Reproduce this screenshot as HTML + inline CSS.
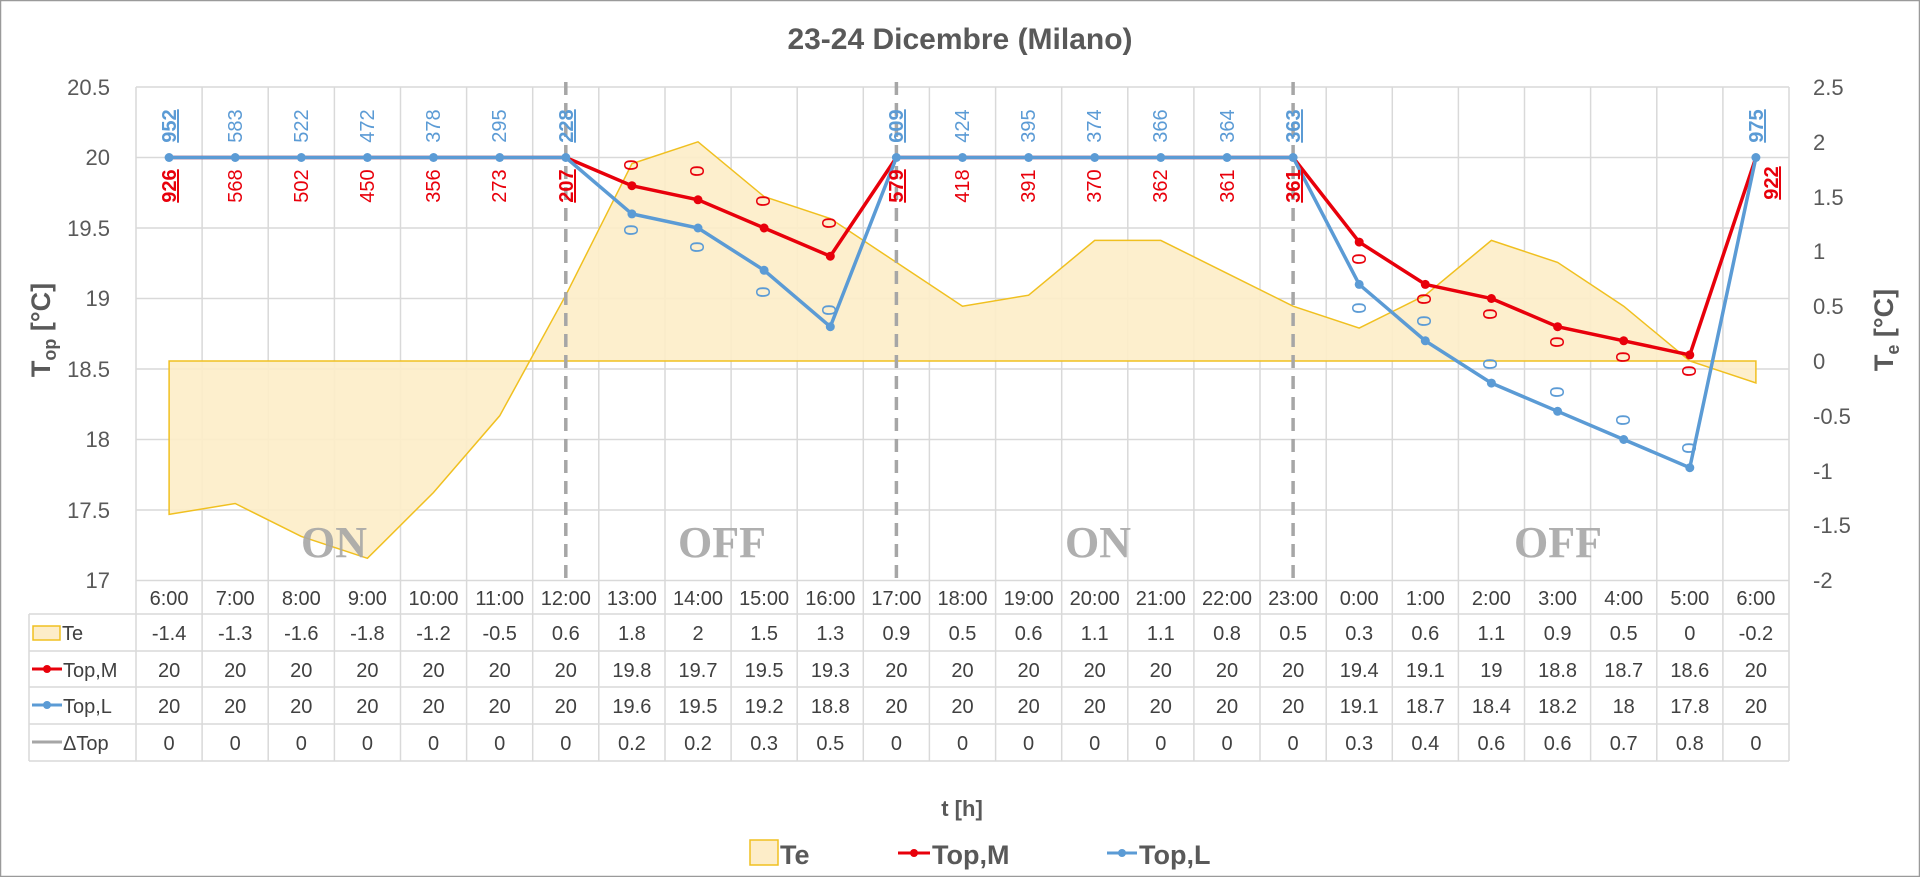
<!DOCTYPE html>
<html><head><meta charset="utf-8"><style>
html,body{margin:0;padding:0;background:#fff;}
svg{display:block;font-family:"Liberation Sans",sans-serif;}
</style></head><body>
<svg width="1920" height="877" viewBox="0 0 1920 877" xmlns="http://www.w3.org/2000/svg">
<rect x="0.5" y="0.5" width="1919" height="876" fill="#fff" stroke="#9a9a9a" stroke-width="1.5"/>
<text x="960" y="49" text-anchor="middle" font-size="30" font-weight="bold" fill="#595959">23-24 Dicembre (Milano)</text>

<!-- gridlines -->
<g stroke="#d9d9d9" stroke-width="1.5">
<line x1="136" y1="87" x2="1789" y2="87"/><line x1="136" y1="157.5" x2="1789" y2="157.5"/><line x1="136" y1="228" x2="1789" y2="228"/><line x1="136" y1="298.5" x2="1789" y2="298.5"/><line x1="136" y1="369" x2="1789" y2="369"/><line x1="136" y1="439.5" x2="1789" y2="439.5"/><line x1="136" y1="510" x2="1789" y2="510"/><line x1="136" y1="580.5" x2="1789" y2="580.5"/>
<line x1="136" y1="87" x2="136" y2="761"/><line x1="202.1" y1="87" x2="202.1" y2="761"/><line x1="268.2" y1="87" x2="268.2" y2="761"/><line x1="334.4" y1="87" x2="334.4" y2="761"/><line x1="400.5" y1="87" x2="400.5" y2="761"/><line x1="466.6" y1="87" x2="466.6" y2="761"/><line x1="532.7" y1="87" x2="532.7" y2="761"/><line x1="598.8" y1="87" x2="598.8" y2="761"/><line x1="665" y1="87" x2="665" y2="761"/><line x1="731.1" y1="87" x2="731.1" y2="761"/><line x1="797.2" y1="87" x2="797.2" y2="761"/><line x1="863.3" y1="87" x2="863.3" y2="761"/><line x1="929.4" y1="87" x2="929.4" y2="761"/><line x1="995.6" y1="87" x2="995.6" y2="761"/><line x1="1061.7" y1="87" x2="1061.7" y2="761"/><line x1="1127.8" y1="87" x2="1127.8" y2="761"/><line x1="1193.9" y1="87" x2="1193.9" y2="761"/><line x1="1260" y1="87" x2="1260" y2="761"/><line x1="1326.2" y1="87" x2="1326.2" y2="761"/><line x1="1392.3" y1="87" x2="1392.3" y2="761"/><line x1="1458.4" y1="87" x2="1458.4" y2="761"/><line x1="1524.5" y1="87" x2="1524.5" y2="761"/><line x1="1590.6" y1="87" x2="1590.6" y2="761"/><line x1="1656.8" y1="87" x2="1656.8" y2="761"/><line x1="1722.9" y1="87" x2="1722.9" y2="761"/><line x1="1789" y1="87" x2="1789" y2="761"/>
<line x1="29" y1="614" x2="1789" y2="614"/><line x1="29" y1="651" x2="1789" y2="651"/><line x1="29" y1="687" x2="1789" y2="687"/><line x1="29" y1="724" x2="1789" y2="724"/><line x1="29" y1="761" x2="1789" y2="761"/>
<line x1="29" y1="614" x2="29" y2="761"/>
</g>

<!-- Te area -->
<polygon fill="#fdedc8" fill-opacity="0.9" stroke="#f0c020" stroke-width="1.5" points="169.1,361 169.1,514.4 235.2,503.5 301.3,536.4 367.4,558.3 433.5,492.5 499.7,415.8 565.8,295.2 631.9,163.7 698,141.8 764.1,196.6 830.3,218.5 896.4,262.4 962.5,306.2 1028.6,295.2 1094.7,240.4 1160.8,240.4 1227,273.3 1293.1,306.2 1359.2,328.1 1425.3,295.2 1491.4,240.4 1557.6,262.4 1623.7,306.2 1689.8,361 1755.9,382.9 1755.9,361"/>

<!-- ON/OFF -->
<g font-family="'Liberation Serif',serif" font-weight="bold" font-size="44" fill="#a6a6a6" fill-opacity="0.9" text-anchor="middle">
<text x="334" y="557">ON</text><text x="722" y="557">OFF</text><text x="1098" y="557">ON</text><text x="1558" y="557">OFF</text>
</g>

<!-- dashed -->
<g stroke="#a6a6a6" stroke-width="3.5" stroke-dasharray="13,8">
<line x1="565.8" y1="82" x2="565.8" y2="580"/><line x1="896.4" y1="82" x2="896.4" y2="580"/><line x1="1293.1" y1="82" x2="1293.1" y2="580"/>
</g>

<!-- red line -->
<polyline fill="none" stroke="#e8000b" stroke-width="3.5" points="169.1,157.5 235.2,157.5 301.3,157.5 367.4,157.5 433.5,157.5 499.7,157.5 565.8,157.5 631.9,185.7 698,199.8 764.1,228 830.3,256.2 896.4,157.5 962.5,157.5 1028.6,157.5 1094.7,157.5 1160.8,157.5 1227,157.5 1293.1,157.5 1359.2,242.1 1425.3,284.4 1491.4,298.5 1557.6,326.7 1623.7,340.8 1689.8,354.9 1755.9,157.5"/>
<g fill="#e8000b">
<circle cx="631.9" cy="185.7" r="4.5"/><circle cx="698" cy="199.8" r="4.5"/><circle cx="764.1" cy="228" r="4.5"/><circle cx="830.3" cy="256.2" r="4.5"/><circle cx="1359.2" cy="242.1" r="4.5"/><circle cx="1425.3" cy="284.4" r="4.5"/><circle cx="1491.4" cy="298.5" r="4.5"/><circle cx="1557.6" cy="326.7" r="4.5"/><circle cx="1623.7" cy="340.8" r="4.5"/><circle cx="1689.8" cy="354.9" r="4.5"/>
</g>
<!-- blue line -->
<polyline fill="none" stroke="#5b9bd5" stroke-width="3.5" points="169.1,157.5 235.2,157.5 301.3,157.5 367.4,157.5 433.5,157.5 499.7,157.5 565.8,157.5 631.9,213.9 698,228 764.1,270.3 830.3,326.7 896.4,157.5 962.5,157.5 1028.6,157.5 1094.7,157.5 1160.8,157.5 1227,157.5 1293.1,157.5 1359.2,284.4 1425.3,340.8 1491.4,383.1 1557.6,411.3 1623.7,439.5 1689.8,467.7 1755.9,157.5"/>
<g fill="#5b9bd5">
<circle cx="169.1" cy="157.5" r="4.5"/><circle cx="235.2" cy="157.5" r="4.5"/><circle cx="301.3" cy="157.5" r="4.5"/><circle cx="367.4" cy="157.5" r="4.5"/><circle cx="433.5" cy="157.5" r="4.5"/><circle cx="499.7" cy="157.5" r="4.5"/><circle cx="565.8" cy="157.5" r="4.5"/><circle cx="631.9" cy="213.9" r="4.5"/><circle cx="698" cy="228" r="4.5"/><circle cx="764.1" cy="270.3" r="4.5"/><circle cx="830.3" cy="326.7" r="4.5"/><circle cx="896.4" cy="157.5" r="4.5"/><circle cx="962.5" cy="157.5" r="4.5"/><circle cx="1028.6" cy="157.5" r="4.5"/><circle cx="1094.7" cy="157.5" r="4.5"/><circle cx="1160.8" cy="157.5" r="4.5"/><circle cx="1227" cy="157.5" r="4.5"/><circle cx="1293.1" cy="157.5" r="4.5"/><circle cx="1359.2" cy="284.4" r="4.5"/><circle cx="1425.3" cy="340.8" r="4.5"/><circle cx="1491.4" cy="383.1" r="4.5"/><circle cx="1557.6" cy="411.3" r="4.5"/><circle cx="1623.7" cy="439.5" r="4.5"/><circle cx="1689.8" cy="467.7" r="4.5"/><circle cx="1755.9" cy="157.5" r="4.5"/>
</g>

<!-- blue labels -->
<g font-size="20" fill="#5b9bd5" text-anchor="middle">
<text transform="translate(176,126) rotate(-90)" font-weight="bold" text-decoration="underline">952</text>
<text transform="translate(242,126) rotate(-90)">583</text>
<text transform="translate(308,126) rotate(-90)">522</text>
<text transform="translate(374,126) rotate(-90)">472</text>
<text transform="translate(440,126) rotate(-90)">378</text>
<text transform="translate(506,126) rotate(-90)">295</text>
<text transform="translate(573,126) rotate(-90)" font-weight="bold" text-decoration="underline">228</text>
<text transform="translate(903,126) rotate(-90)" font-weight="bold" text-decoration="underline">609</text>
<text transform="translate(969,126) rotate(-90)">424</text>
<text transform="translate(1035,126) rotate(-90)">395</text>
<text transform="translate(1101,126) rotate(-90)">374</text>
<text transform="translate(1167,126) rotate(-90)">366</text>
<text transform="translate(1234,126) rotate(-90)">364</text>
<text transform="translate(1300,126) rotate(-90)" font-weight="bold" text-decoration="underline">363</text>
<text transform="translate(1763,126) rotate(-90)" font-weight="bold" text-decoration="underline">975</text>
<text transform="translate(638,230) rotate(-90)">0</text>
<text transform="translate(704,247) rotate(-90)">0</text>
<text transform="translate(770,292) rotate(-90)">0</text>
<text transform="translate(836,310) rotate(-90)">0</text>
<text transform="translate(1366,308) rotate(-90)">0</text>
<text transform="translate(1431,321) rotate(-90)">0</text>
<text transform="translate(1497,364) rotate(-90)">0</text>
<text transform="translate(1564,392) rotate(-90)">0</text>
<text transform="translate(1630,420) rotate(-90)">0</text>
<text transform="translate(1696,448) rotate(-90)">0</text>
</g>
<!-- red labels -->
<g font-size="20" fill="#e8000b" text-anchor="middle">
<text transform="translate(176,186) rotate(-90)" font-weight="bold" text-decoration="underline">926</text>
<text transform="translate(242,186) rotate(-90)">568</text>
<text transform="translate(308,186) rotate(-90)">502</text>
<text transform="translate(374,186) rotate(-90)">450</text>
<text transform="translate(440,186) rotate(-90)">356</text>
<text transform="translate(506,186) rotate(-90)">273</text>
<text transform="translate(573,186) rotate(-90)" font-weight="bold" text-decoration="underline">207</text>
<text transform="translate(903,186) rotate(-90)" font-weight="bold" text-decoration="underline">579</text>
<text transform="translate(969,186) rotate(-90)">418</text>
<text transform="translate(1035,186) rotate(-90)">391</text>
<text transform="translate(1101,186) rotate(-90)">370</text>
<text transform="translate(1167,186) rotate(-90)">362</text>
<text transform="translate(1234,186) rotate(-90)">361</text>
<text transform="translate(1300,186) rotate(-90)" font-weight="bold" text-decoration="underline">361</text>
<text transform="translate(1778,183) rotate(-90)" font-weight="bold" text-decoration="underline">922</text>
<text transform="translate(638,165) rotate(-90)">0</text>
<text transform="translate(704,171) rotate(-90)">0</text>
<text transform="translate(770,201) rotate(-90)">0</text>
<text transform="translate(836,223) rotate(-90)">0</text>
<text transform="translate(1366,259) rotate(-90)">0</text>
<text transform="translate(1431,299) rotate(-90)">0</text>
<text transform="translate(1497,314) rotate(-90)">0</text>
<text transform="translate(1564,342) rotate(-90)">0</text>
<text transform="translate(1630,357) rotate(-90)">0</text>
<text transform="translate(1696,371) rotate(-90)">0</text>
</g>

<!-- axes ticks -->
<g font-size="22" fill="#595959" text-anchor="end">
<text x="110" y="95">20.5</text><text x="110" y="165">20</text><text x="110" y="236">19.5</text><text x="110" y="306">19</text><text x="110" y="377">18.5</text><text x="110" y="447">18</text><text x="110" y="518">17.5</text><text x="110" y="588">17</text>
</g>
<g font-size="22" fill="#595959" text-anchor="start">
<text x="1813" y="95">2.5</text><text x="1813" y="150">2</text><text x="1813" y="205">1.5</text><text x="1813" y="259">1</text><text x="1813" y="314">0.5</text><text x="1813" y="369">0</text><text x="1813" y="424">-0.5</text><text x="1813" y="479">-1</text><text x="1813" y="533">-1.5</text><text x="1813" y="588">-2</text>
</g>
<text transform="translate(50,330) rotate(-90)" text-anchor="middle" font-size="27" font-weight="bold" fill="#595959">T<tspan font-size="18" dy="6">op</tspan><tspan dy="-6"> [°C]</tspan></text>
<text transform="translate(1893,330) rotate(-90)" text-anchor="middle" font-size="27" font-weight="bold" fill="#595959">T<tspan font-size="18" dy="6">e</tspan><tspan dy="-6"> [°C]</tspan></text>

<!-- table -->
<g font-size="20" fill="#404040" text-anchor="middle">
<text x="169.1" y="605">6:00</text><text x="235.2" y="605">7:00</text><text x="301.3" y="605">8:00</text><text x="367.4" y="605">9:00</text><text x="433.5" y="605">10:00</text><text x="499.7" y="605">11:00</text><text x="565.8" y="605">12:00</text><text x="631.9" y="605">13:00</text><text x="698" y="605">14:00</text><text x="764.1" y="605">15:00</text><text x="830.3" y="605">16:00</text><text x="896.4" y="605">17:00</text><text x="962.5" y="605">18:00</text><text x="1028.6" y="605">19:00</text><text x="1094.7" y="605">20:00</text><text x="1160.8" y="605">21:00</text><text x="1227" y="605">22:00</text><text x="1293.1" y="605">23:00</text><text x="1359.2" y="605">0:00</text><text x="1425.3" y="605">1:00</text><text x="1491.4" y="605">2:00</text><text x="1557.6" y="605">3:00</text><text x="1623.7" y="605">4:00</text><text x="1689.8" y="605">5:00</text><text x="1755.9" y="605">6:00</text>
<text x="169.1" y="640">-1.4</text><text x="235.2" y="640">-1.3</text><text x="301.3" y="640">-1.6</text><text x="367.4" y="640">-1.8</text><text x="433.5" y="640">-1.2</text><text x="499.7" y="640">-0.5</text><text x="565.8" y="640">0.6</text><text x="631.9" y="640">1.8</text><text x="698" y="640">2</text><text x="764.1" y="640">1.5</text><text x="830.3" y="640">1.3</text><text x="896.4" y="640">0.9</text><text x="962.5" y="640">0.5</text><text x="1028.6" y="640">0.6</text><text x="1094.7" y="640">1.1</text><text x="1160.8" y="640">1.1</text><text x="1227" y="640">0.8</text><text x="1293.1" y="640">0.5</text><text x="1359.2" y="640">0.3</text><text x="1425.3" y="640">0.6</text><text x="1491.4" y="640">1.1</text><text x="1557.6" y="640">0.9</text><text x="1623.7" y="640">0.5</text><text x="1689.8" y="640">0</text><text x="1755.9" y="640">-0.2</text>
<text x="169.1" y="677">20</text><text x="235.2" y="677">20</text><text x="301.3" y="677">20</text><text x="367.4" y="677">20</text><text x="433.5" y="677">20</text><text x="499.7" y="677">20</text><text x="565.8" y="677">20</text><text x="631.9" y="677">19.8</text><text x="698" y="677">19.7</text><text x="764.1" y="677">19.5</text><text x="830.3" y="677">19.3</text><text x="896.4" y="677">20</text><text x="962.5" y="677">20</text><text x="1028.6" y="677">20</text><text x="1094.7" y="677">20</text><text x="1160.8" y="677">20</text><text x="1227" y="677">20</text><text x="1293.1" y="677">20</text><text x="1359.2" y="677">19.4</text><text x="1425.3" y="677">19.1</text><text x="1491.4" y="677">19</text><text x="1557.6" y="677">18.8</text><text x="1623.7" y="677">18.7</text><text x="1689.8" y="677">18.6</text><text x="1755.9" y="677">20</text>
<text x="169.1" y="713">20</text><text x="235.2" y="713">20</text><text x="301.3" y="713">20</text><text x="367.4" y="713">20</text><text x="433.5" y="713">20</text><text x="499.7" y="713">20</text><text x="565.8" y="713">20</text><text x="631.9" y="713">19.6</text><text x="698" y="713">19.5</text><text x="764.1" y="713">19.2</text><text x="830.3" y="713">18.8</text><text x="896.4" y="713">20</text><text x="962.5" y="713">20</text><text x="1028.6" y="713">20</text><text x="1094.7" y="713">20</text><text x="1160.8" y="713">20</text><text x="1227" y="713">20</text><text x="1293.1" y="713">20</text><text x="1359.2" y="713">19.1</text><text x="1425.3" y="713">18.7</text><text x="1491.4" y="713">18.4</text><text x="1557.6" y="713">18.2</text><text x="1623.7" y="713">18</text><text x="1689.8" y="713">17.8</text><text x="1755.9" y="713">20</text>
<text x="169.1" y="750">0</text><text x="235.2" y="750">0</text><text x="301.3" y="750">0</text><text x="367.4" y="750">0</text><text x="433.5" y="750">0</text><text x="499.7" y="750">0</text><text x="565.8" y="750">0</text><text x="631.9" y="750">0.2</text><text x="698" y="750">0.2</text><text x="764.1" y="750">0.3</text><text x="830.3" y="750">0.5</text><text x="896.4" y="750">0</text><text x="962.5" y="750">0</text><text x="1028.6" y="750">0</text><text x="1094.7" y="750">0</text><text x="1160.8" y="750">0</text><text x="1227" y="750">0</text><text x="1293.1" y="750">0</text><text x="1359.2" y="750">0.3</text><text x="1425.3" y="750">0.4</text><text x="1491.4" y="750">0.6</text><text x="1557.6" y="750">0.6</text><text x="1623.7" y="750">0.7</text><text x="1689.8" y="750">0.8</text><text x="1755.9" y="750">0</text>
</g>
<g font-size="20" fill="#404040">
<rect x="33" y="626" width="27" height="14" fill="#fdedc8" stroke="#f0c020" stroke-width="1.5"/>
<text x="62" y="640">Te</text>
<line x1="32" y1="669" x2="62" y2="669" stroke="#e8000b" stroke-width="3"/><circle cx="47" cy="669" r="4" fill="#e8000b"/>
<text x="63" y="677">Top,M</text>
<line x1="32" y1="705" x2="62" y2="705" stroke="#5b9bd5" stroke-width="3"/><circle cx="47" cy="705" r="4" fill="#5b9bd5"/>
<text x="63" y="713">Top,L</text>
<line x1="32" y1="742" x2="62" y2="742" stroke="#a6a6a6" stroke-width="3"/>
<text x="63" y="750">ΔTop</text>
</g>

<text x="962" y="816" text-anchor="middle" font-size="22" font-weight="bold" fill="#595959">t [h]</text>
<g font-size="27" font-weight="bold" fill="#595959">
<rect x="750" y="840" width="28" height="25" fill="#fdedc8" stroke="#f0c020" stroke-width="1.5"/>
<text x="780" y="864">Te</text>
<line x1="898" y1="853" x2="930" y2="853" stroke="#e8000b" stroke-width="3"/><circle cx="914" cy="853" r="4" fill="#e8000b"/>
<text x="932" y="864">Top,M</text>
<line x1="1107" y1="853" x2="1137" y2="853" stroke="#5b9bd5" stroke-width="3"/><circle cx="1122" cy="853" r="4" fill="#5b9bd5"/>
<text x="1139" y="864">Top,L</text>
</g>
</svg>
</body></html>
